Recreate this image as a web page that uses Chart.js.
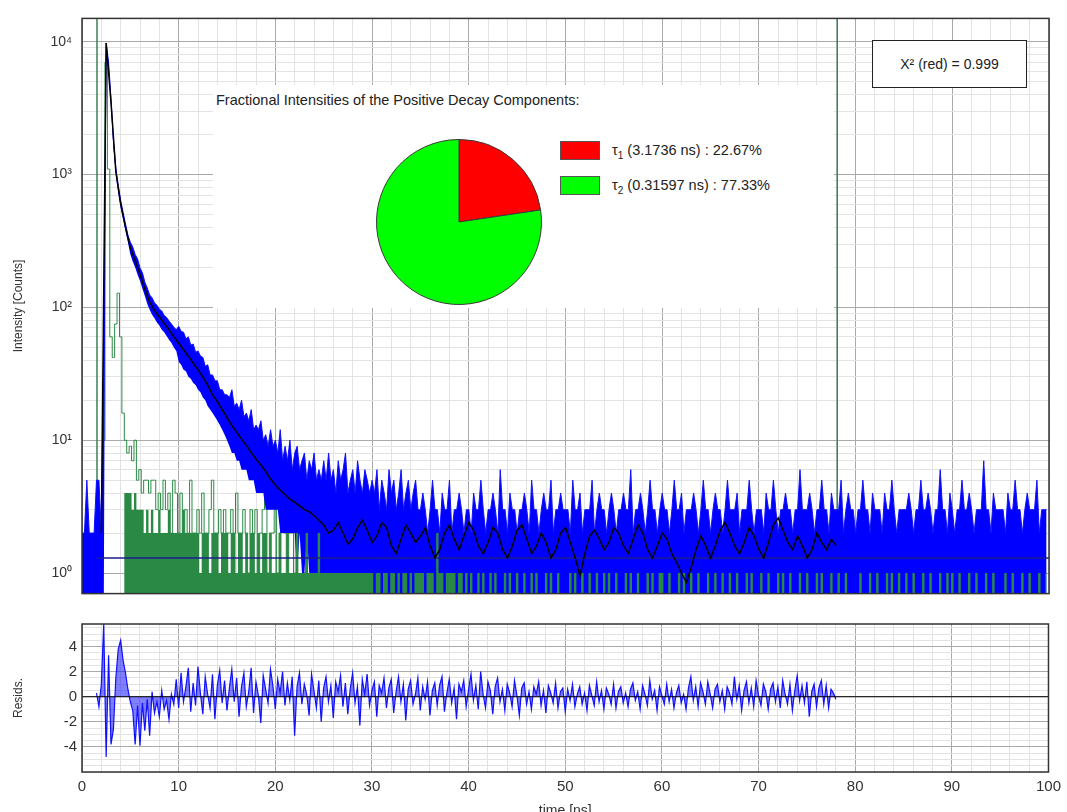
<!DOCTYPE html>
<html>
<head>
<meta charset="utf-8">
<script src="https://cdn.jsdelivr.net/npm/chart.js@4.4.1/dist/chart.umd.min.js"></script>
<style>
  body { margin: 0; background: #fff; overflow: hidden; font-family: "Liberation Sans", Arial, sans-serif; color: #222; }
  #wrap { position: relative; width: 1067px; height: 812px; overflow: hidden; }
  canvas { position: absolute; }
  #decay { left: 0; top: 0; }
  #resid { left: 0; top: 610px; }
  #inset { position: absolute; left: 213px; top: 85px; width: 621px; height: 223px; background: #fff; }
  #insetTitle { position: absolute; left: 3px; top: 7px; font-size: 14.5px; white-space: nowrap; }
  #pie { left: 163px; top: 54px; }
  .swatch { position: absolute; left: 347px; width: 38px; height: 17px; border: 1px solid #555; }
  .keytext { position: absolute; left: 399px; font-size: 14.5px; white-space: nowrap; }
  .keytext sub { font-size: 10px; }
  #chi { position: absolute; left: 872px; top: 40px; width: 153px; height: 46px; border: 1.5px solid #222;
         background: #fff; font-size: 14px; text-align: center; line-height: 46px; }
</style>
</head>
<body>
<div id="wrap">
  <canvas id="decay" width="1067" height="612"></canvas>
  <canvas id="resid" width="1067" height="210"></canvas>
  <div id="inset">
    <div id="insetTitle">Fractional Intensities of the Positive Decay Components:</div>
    <canvas id="pie" width="166" height="166"></canvas>
  </div>
  <div id="chi"></div>
</div>
<script>
// channel width (ns) of decay, IRF and residual traces
const channelWidth = 0.25;

// measured decay: highest counts seen in each 0.25 ns bin, from t = 0
const decayUpper = [
  2,2,5,2,2,2,5,5,2,60,9800,7000,3700,1800,1120,830,640,520,425,350,
  310,285,250,232,198,182,155,140,124,118,108,104,97,94,87,84,79,75,71,68,
  72,66,65,58,60,52,53,46,47,43,42,36,37,31,31,28,28,24,24,22,
  22,21,24,18,19,17,20,15,16,14,17,12,13,12,14,10,11,9,12,9,
  10,8,12,7,9,7,10,6,8,9,6,7,8,5,7,6,8,5,6,5,
  7,5,8,5,6,4,7,5,6,8,4,5,6,4,7,5,4,6,5,4,
  5,4,6,3,5,4,3,6,4,5,3,4,6,3,4,5,3,4,5,3,
  3,4,3,2,3,5,3,3,2,4,3,3,5,2,3,3,4,3,2,3,
  3,2,4,3,3,5,3,2,3,3,4,3,2,6,3,3,2,4,3,3,
  2,3,3,4,3,2,5,3,3,2,3,4,3,3,5,2,3,3,4,3,
  3,3,2,5,3,3,4,2,3,3,3,5,2,3,4,3,3,2,3,4,
  3,2,3,3,4,3,3,6,2,3,3,4,3,2,3,5,3,3,2,3,
  4,3,3,2,3,5,3,3,4,2,3,3,3,4,3,2,3,5,3,3,
  2,3,4,3,3,2,3,5,3,3,3,4,2,3,3,3,5,3,2,3,
  3,3,2,4,3,3,5,3,2,3,3,4,3,3,2,3,3,6,3,3,
  3,4,3,2,3,3,5,3,3,2,4,3,3,3,5,2,3,4,3,3,
  2,3,3,5,3,3,2,4,3,3,3,2,4,3,3,5,3,2,3,3,
  3,3,4,3,2,3,3,5,3,3,4,3,2,3,3,6,3,3,2,4,
  3,2,3,3,5,3,3,4,3,2,3,3,3,7,3,3,2,4,3,3,
  3,3,2,4,3,3,5,3,3,2,3,4,3,3,3,5,2,3,3,3
];
// lowest counts in each bin up to 30 ns (later bins all reach zero)
const decayLower = [
  0,0,0,0,0,0,0,0,0,0,8500,6000,3300,1600,980,730,560,460,375,310,
  250,222,200,176,158,138,122,106,96,88,83,77,73,68,65,61,57,54,50,47,
  39,37,34,33,30,29,27,26,24,23,21,20,18,17,16,15,14,13,12,11,
  10,9,8,8,7,7,6,6,6,5,5,5,4,4,4,4,3,3,3,3,
  3,3,2,2,2,2,2,2,2,1,2,1,1,2,1,1,1,1,1,1,
  1,0,1,1,0,1,1,0,1,0,1,1,0,1,0,1,0,1,0,0
];

// instrument response (IRF): highest counts in each 0.25 ns bin, from t = 0
const irfCounts = [
  0,0,0,0,0,0,0,0,0,10,7000,1100,60,42,75,128,60,16,10,8,
  9,7,10,5,6,4,5,5,4,5,5,3,4,3,5,3,4,2,5,4,
  2,4,2,3,2,5,2,2,3,2,4,2,2,3,5,2,2,3,2,3,
  2,2,3,2,4,2,2,3,2,1,3,2,3,1,2,3,4,1,2,2,
  3,1,2,3,2,1,2,2,1,2,2,3,1,2,2,1,2,3,1,2,
  2,1,2,2,1,2,3,1,2,2,1,2,2,1,2,1,2,2,1,2,
  1,2,2,1,2,1,2,2,1,2,1,2,1,2,1,3,2,1,2,1,
  1,1,0,1,1,1,0,2,1,1,0,1,1,1,1,0,1,1,0,1,
  0,1,0,0,1,0,1,0,0,1,0,1,0,0,0,1,0,1,0,0,
  1,0,0,1,0,0,1,0,1,0,0,0,1,0,1,0,0,1,0,0,
  0,0,1,0,1,0,0,1,0,0,1,0,0,1,0,0,1,0,1,0,
  0,1,0,0,0,1,0,1,0,0,1,0,0,0,1,0,1,0,0,1,
  1,0,0,1,0,0,0,1,0,1,0,0,1,0,0,1,0,0,0,1,
  0,0,1,0,0,1,0,0,1,0,0,1,0,0,0,1,0,1,0,0,
  0,1,0,0,1,0,0,0,1,0,1,0,0,1,0,0,0,1,0,0,
  1,0,0,0,1,0,1,0,0,0,1,0,0,1,0,0,1,0,0,0,
  0,0,1,0,0,0,1,0,0,1,0,0,0,1,0,1,0,0,1,0,
  0,1,0,0,1,0,0,0,1,0,0,1,0,0,0,1,0,0,1,0,
  1,0,0,1,0,0,0,1,0,0,1,0,0,0,1,0,0,1,0,0,
  0,0,1,0,0,1,0,0,0,1,0,0,1,0,0,0,1,0,0,1
];
// IRF level that is filled solid in each bin up to 35 ns (later bins: irfCounts)
const irfSolid = [
  0,0,0,0,0,0,0,0,0,0,0,0,0,0,0,0,0,0,4,4,
  4,3,4,3,3,3,2,3,2,3,2,2,3,2,2,2,3,2,2,2,
  2,2,3,2,2,2,2,2,2,1,2,2,2,1,2,2,2,1,2,2,
  2,1,2,2,1,2,2,1,2,1,2,2,1,2,1,2,2,1,2,1,
  1,1,2,1,1,2,1,1,1,2,1,1,1,2,1,1,1,1,2,1,
  1,1,1,1,1,1,1,1,1,1,1,1,1,1,1,1,1,1,1,1,
  1,0,1,1,0,1,1,0,1,1,0,1,0,1,1,0,1,0,1,1
];

// fitted curve, every 0.5 ns from 2.0 ns to 78 ns
const fitStart = 2.0;
const fitStep = 0.5;
const fitCounts = [
  2,9800,3500,1050,600,400,280,225,178,138,
  110,95,85,76,68,60,54,48,43,38,
  34,30,26,22,19.5,17,14.8,12.9,11.5,10.2,
  9.1,8.1,7.2,6.5,5.8,5.1,4.6,4.2,3.9,3.6,
  3.4,3.2,3.0,2.9,2.7,2.5,2.3,2.0,2.1,2.4,
  2.0,1.65,1.8,
  2.2,2.5,2.1,1.7,1.9,2.4,2.2,1.6,1.4,1.8,
  2.3,2.0,1.7,1.9,2.2,1.6,1.3,1.5,2.0,2.3,
  1.8,1.5,1.9,2.4,2.1,1.6,1.4,1.7,2.2,2.0,
  1.5,1.3,1.6,2.1,2.3,1.8,1.4,1.6,2.0,1.7,
  1.3,1.5,2.0,2.2,1.7,1.3,0.95,1.4,1.9,2.1,
  1.8,1.5,1.7,2.2,2.0,1.6,1.4,1.8,2.3,2.0,
  1.5,1.3,1.6,2.0,1.8,1.4,1.2,1.0,0.85,1.1,
  1.5,1.9,1.6,1.3,1.6,2.1,2.4,2.0,1.6,1.4,
  1.7,2.2,1.9,1.5,1.3,1.7,2.3,2.6,2.1,1.7,
  1.5,1.9,1.6,1.3,1.5,2.0,1.7,1.5,1.8,1.6
];

// weighted residuals from 1.5 ns to 78 ns
const residStart = 1.5;
const residuals = [
  0.3,-0.8,1.0,5.8,-4.8,3.3,-3.8,-2.6,1.5,3.8,4.5,2.9,1.9,0.6,-0.4,-1.1,-3.8,-0.7,-3.9,-0.5,
  -2.7,-0.2,-3.1,0.4,-1.3,-0.4,-1.6,0.5,-1.0,-0.3,-1.8,0.2,-0.6,1.4,-0.9,1.9,-0.4,0.8,2.3,-1.2,
  1.1,-0.7,2.4,0.3,-1.4,1.6,0.2,-0.9,1.8,-1.8,0.9,2.1,-0.5,1.3,-1.1,0.7,2.2,-0.4,1.5,-1.6,
  0.8,1.9,-0.8,0.4,2.3,-1.3,1.2,0.1,-2.1,1.7,0.6,-0.5,2.2,0.9,-1.0,1.4,0.3,2.0,-0.7,1.1,
  -0.3,1.6,-3.1,0.8,1.9,-0.6,1.0,0.2,-1.5,1.8,0.5,-0.9,1.3,-2.0,0.7,1.6,-0.4,0.9,-1.7,1.2,
  0.4,1.7,-0.8,1.1,-1.4,0.6,1.9,-0.5,0.8,-2.3,1.4,0.2,1.8,-0.7,0.5,1.2,-1.6,0.9,0.3,1.5,
  -0.9,0.7,1.4,-1.3,0.4,1.6,-0.4,1.0,-1.9,0.6,1.3,-0.6,0.2,1.5,-1.1,0.8,-0.2,1.2,-1.5,0.5,
  1.1,-0.7,0.9,1.6,-1.2,0.3,1.4,-0.5,0.7,-1.8,1.0,0.4,1.3,-0.8,0.6,1.8,-0.3,0.9,-1.0,2.0,
  0.2,-0.9,1.2,0.5,-1.4,0.8,1.5,-0.4,0.6,-1.1,1.0,0.3,-0.8,1.3,0.1,-1.5,0.7,1.1,-0.6,0.4,
  -1.0,0.8,0.2,1.2,-0.7,0.5,-1.3,0.9,0.3,-0.5,1.1,-0.9,0.4,0.7,-1.2,0.6,-0.3,1.0,-0.8,0.2,
  0.8,-0.6,0.3,-1.1,0.9,0.1,-0.7,1.2,-0.4,0.5,-1.0,0.7,0.2,-0.6,1.0,-0.9,0.4,0.8,-0.5,0.3,
  -0.8,0.6,1.1,-0.3,0.4,-1.0,0.9,0.2,-0.7,1.3,-0.2,0.5,-1.1,0.8,0.1,-0.6,1.0,-0.4,0.6,-0.9,
  0.3,0.9,-0.5,0.2,-1.0,0.7,1.6,-0.3,0.8,-0.8,1.1,0.4,-0.6,1.2,0.2,-0.9,0.6,1.0,-0.4,0.5,
  -1.0,0.8,0.3,-0.6,1.6,-0.2,0.9,-1.1,0.5,1.2,-0.5,0.7,-0.8,1.3,0.1,-0.7,1.0,0.4,-1.0,0.6,
  1.1,-0.4,0.8,-0.9,1.3,0.2,-0.6,1.0,-1.1,0.5,1.7,-0.3,0.9,-0.5,1.2,-1.6,0.4,1.0,-0.8,0.7,
  1.3,-0.6,0.9,-0.9,0.6,0.3,-0.2
];

// fit window markers (ns) and constant background level (counts)
const fitRange = [1.55, 78.1];
const backgroundLevel = 1.3;

// pie inset
const componentLabels = ["τ1", "τ2"];
const lifetimes = ["3.1736", "0.31597"];
const fractions = [22.67, 77.33];
const pieColors = ["#ff0000", "#00ff00"];
const chiSquare = 0.999;

// axes
const xMajorTicks = [0, 10, 20, 30, 40, 50, 60, 70, 80, 90, 100];
const yDecades = [1, 10, 100, 1000, 10000];
const residTicks = [-4, -2, 0, 2, 4];
const yMin = 0.7, yMax = 15000;
const residMin = -6, residMax = 5.8;
const zeroCountLevel = 0.55; // empty bins sit just below the log axis

const MAJOR = "#a9a9a9";
const MINOR = "#e3e3e3";
const TEXT = "#333";

Chart.defaults.font.family = '"Liberation Sans", Arial, sans-serif';

const xGridTicks = [];
for (let v = 0; v <= 100; v += 2) xGridTicks.push(v);
const yGridTicks = [];
yDecades.forEach(d => {
  for (let m = 1; m <= 9; m++) if (d * m <= yMax) yGridTicks.push(d * m);
});
const residGridTicks = [];
for (let v = residMin; v <= residMax; v += 0.5) residGridTicks.push(v);

const superDigits = { "0": "⁰", "1": "¹", "2": "²", "3": "³", "4": "⁴" };
function decadeLabel(v) {
  const e = Math.round(Math.log10(v));
  return "10" + String(e).split("").map(d => superDigits[d]).join("");
}

function toPoints(values, start, step, count, fallback) {
  const pts = [];
  for (let i = 0; i < (count || values.length); i++) {
    const v = i < values.length ? values[i] : (fallback ? fallback[i] : 0);
    pts.push({ x: start + i * step, y: v > 0 ? v : zeroCountLevel });
  }
  return pts;
}

const frame = {
  id: "frame",
  afterDraw(chart) {
    const { ctx, chartArea: a } = chart;
    ctx.save();
    ctx.strokeStyle = "#333";
    ctx.lineWidth = 1.5;
    ctx.strokeRect(a.left, a.top, a.right - a.left, a.bottom - a.top);
    ctx.restore();
  }
};

function lineSet(label, data, color, width, order, extra) {
  return Object.assign({ label, data, borderColor: color, borderWidth: width, pointRadius: 0, order, clip: 0, tension: 0, fill: false }, extra || {});
}

const nBins = decayUpper.length;

new Chart(document.getElementById("decay"), {
  type: "line",
  data: {
    datasets: [
      lineSet("fit", toPoints(fitCounts, fitStart, fitStep), "#000000", 1.5, 0),
      lineSet("background", [{ x: fitRange[0], y: backgroundLevel }, { x: 100, y: backgroundLevel }], "#1c1c8c", 1.5, 1),
      lineSet("IRF solid", toPoints(irfSolid, 0, channelWidth, nBins, irfCounts), "rgba(0,0,0,0)", 0, 2,
        { fill: "start", backgroundColor: "#2a8a45", stepped: "middle" }),
      lineSet("decay low", toPoints(decayLower, 0, channelWidth, nBins), "rgba(0,0,0,0)", 0, 4),
      lineSet("decay", toPoints(decayUpper, 0, channelWidth), "#1010ff", 1, 3,
        { fill: "-1", backgroundColor: "#0000ff", spanGaps: true }),
      lineSet("IRF", toPoints(irfCounts, 0, channelWidth), "#2a8a45", 1, 5, { stepped: "middle" }),
      lineSet("start", [{ x: fitRange[0], y: yMin }, { x: fitRange[0], y: yMax }], "#3d8055", 1.5, 6),
      lineSet("end", [{ x: fitRange[1], y: yMin }, { x: fitRange[1], y: yMax }], "#3d8055", 1.5, 6)
    ]
  },
  options: {
    responsive: false,
    animation: false,
    layout: { padding: { top: 14, right: 18, left: 0, bottom: 0 } },
    plugins: { legend: { display: false }, tooltip: { enabled: false } },
    scales: {
      x: {
        type: "linear", min: 0, max: 100,
        afterBuildTicks: s => { s.ticks = xGridTicks.map(v => ({ value: v })); },
        afterFit: s => { s.height = 10; },
        ticks: { display: false },
        grid: { color: c => xMajorTicks.includes(c.tick.value) ? MAJOR : MINOR, drawTicks: false },
        border: { display: false }
      },
      y: {
        type: "logarithmic", min: yMin, max: yMax,
        afterBuildTicks: s => { s.ticks = yGridTicks.map(v => ({ value: v })); },
        afterFit: s => { s.width = 82; },
        ticks: {
          autoSkip: false, padding: 10, color: TEXT, font: { size: 14 },
          callback: v => yDecades.includes(v) ? decadeLabel(v) : ""
        },
        grid: { color: c => yDecades.includes(c.tick.value) ? MAJOR : MINOR, drawTicks: false },
        border: { display: false },
        title: { display: true, text: "Intensity [Counts]", color: TEXT, font: { size: 12 }, padding: { top: 11, bottom: 0 } }
      }
    }
  },
  plugins: [frame]
});

new Chart(document.getElementById("resid"), {
  type: "line",
  data: {
    datasets: [
      lineSet("zero", [{ x: 0, y: 0 }, { x: 100, y: 0 }], "#000000", 1.2, 0),
      lineSet("residuals", residuals.map((v, i) => ({ x: residStart + i * channelWidth, y: v })), "#1010ff", 1.2, 1,
        { fill: "origin", backgroundColor: "rgba(0,0,255,0.5)" })
    ]
  },
  options: {
    responsive: false,
    animation: false,
    layout: { padding: { top: 12, right: 18, left: 0, bottom: 0 } },
    plugins: { legend: { display: false }, tooltip: { enabled: false } },
    scales: {
      x: {
        type: "linear", min: 0, max: 100,
        afterBuildTicks: s => { s.ticks = xGridTicks.map(v => ({ value: v })); },
        afterFit: s => { s.height = 48; },
        ticks: {
          autoSkip: false, maxRotation: 0, padding: 6, color: TEXT, font: { size: 15 },
          callback: v => xMajorTicks.includes(v) ? String(v) : ""
        },
        grid: { color: c => xMajorTicks.includes(c.tick.value) ? MAJOR : MINOR, drawTicks: false },
        border: { display: false },
        title: { display: true, text: "time [ns]", color: TEXT, font: { size: 14 }, padding: { top: 0, bottom: 0 } }
      },
      y: {
        type: "linear", min: residMin, max: residMax,
        afterBuildTicks: s => { s.ticks = residGridTicks.map(v => ({ value: v })); },
        afterFit: s => { s.width = 82; },
        ticks: {
          autoSkip: false, padding: 5, color: TEXT, font: { size: 15 },
          callback: v => residTicks.includes(v) ? String(v) : ""
        },
        grid: { color: c => residTicks.includes(c.tick.value) ? MAJOR : MINOR, drawTicks: false },
        border: { display: false },
        title: { display: true, text: "Resids.", color: TEXT, font: { size: 12 }, padding: { top: 11, bottom: 0 } }
      }
    }
  },
  plugins: [frame]
});

new Chart(document.getElementById("pie"), {
  type: "pie",
  data: {
    labels: componentLabels,
    datasets: [{ data: fractions, backgroundColor: pieColors, borderColor: "#3a3a3a", borderWidth: 1 }]
  },
  options: {
    responsive: false,
    animation: false,
    layout: { padding: 0 },
    plugins: { legend: { display: false }, tooltip: { enabled: false } }
  }
});

// legend of the pie inset
const inset = document.getElementById("inset");
componentLabels.forEach((lab, i) => {
  const sw = document.createElement("div");
  sw.className = "swatch";
  sw.style.top = (56 + i * 35) + "px";
  sw.style.background = pieColors[i];
  inset.appendChild(sw);
  const t = document.createElement("div");
  t.className = "keytext";
  t.style.top = (57 + i * 35) + "px";
  t.innerHTML = lab[0] + "<sub>" + lab.slice(1) + "</sub> (" + lifetimes[i] + " ns) : " + fractions[i].toFixed(2) + "%";
  inset.appendChild(t);
});

document.getElementById("chi").textContent = "X² (red) = " + chiSquare.toFixed(3);
</script>
</body>
</html>
